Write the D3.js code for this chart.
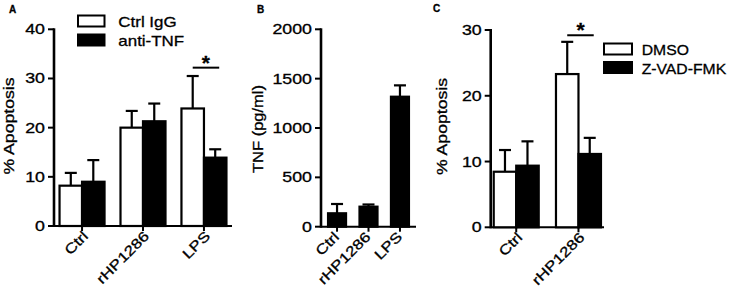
<!DOCTYPE html>
<html><head><meta charset="utf-8">
<script src="https://cdn.jsdelivr.net/npm/d3@7"></script>
<style>
html,body{margin:0;padding:0;background:#fff;}
svg text{font-family:"Liberation Sans",Arial,sans-serif;fill:#000;stroke:#000;stroke-width:0.3px;}
</style>
</head><body>
<svg id="chart" width="737" height="291"></svg>
<script>
// ---------- data ----------
const catsA = ["Ctrl", "rHP1286", "LPS"];
const seriesA = ["Ctrl IgG", "anti-TNF"];
const meanA_ctrlIgG = [8.2, 20.0, 23.9];
const errA_ctrlIgG = [2.6, 3.4, 6.6];
const meanA_antiTNF = [9.0, 21.3, 13.9];
const errA_antiTNF = [4.4, 3.6, 1.7];
const ticksA = [0, 10, 20, 30, 40];

const catsB = ["Ctrl", "rHP1286", "LPS"];
const meanB_TNF = [136, 203, 1317];
const errB_TNF = [94, 22, 115];
const ticksB = [0, 500, 1000, 1500, 2000];

const catsC = ["Ctrl", "rHP1286"];
const seriesC = ["DMSO", "Z-VAD-FMK"];
const meanC_DMSO = [8.45, 23.3];
const errC_DMSO = [3.3, 4.9];
const meanC_ZVAD = [9.37, 11.15];
const errC_ZVAD = [3.7, 2.45];
const ticksC = [0, 10, 20, 30];

const sigA = {cat: "LPS", value: 32.2};
const sigC = {cat: "rHP1286", value: 29.2};

// ---------- drawing ----------
const svg = d3.select("#chart");
const SW = 2.2;

function panel(o) {
  const g = svg.append("g");
  const y = d3.scaleLinear().domain(o.yDomain).range([o.y0, o.y1]);
  const x = d3.scalePoint().domain(o.cats).range([o.xAxis, o.xEnd]).padding(o.pad);
  const sub = d3.scaleBand().domain(o.series.map(s => s.name)).range([-o.bw * o.series.length / 2, o.bw * o.series.length / 2]);

  // y axis
  g.append("line").attr("x1", o.xAxis).attr("x2", o.xAxis).attr("y1", y(o.yDomain[0]) + 1).attr("y2", y(o.yDomain[1]) - 1)
    .attr("stroke", "#000").attr("stroke-width", 2.6);
  o.ticks.forEach(t => {
    g.append("line").attr("x1", o.xAxis - 6).attr("x2", o.xAxis).attr("y1", y(t)).attr("y2", y(t))
      .attr("stroke", "#000").attr("stroke-width", 2);
    g.append("text").attr("transform", `translate(${o.xAxis - 9},${y(t) + 5}) scale(1.27,1)`)
      .attr("text-anchor", "end").attr("font-size", 14).text(t);
  });
  // x axis
  g.append("line").attr("x1", o.xAxis).attr("x2", o.xEnd).attr("y1", y(0)).attr("y2", y(0))
    .attr("stroke", "#000").attr("stroke-width", 2);
  o.cats.forEach(c => {
    g.append("line").attr("x1", x(c)).attr("x2", x(c)).attr("y1", y(0)).attr("y2", y(0) + 5)
      .attr("stroke", "#000").attr("stroke-width", 2);
    g.append("text").attr("transform", `translate(${x(c) + o.lblDx},${y(0) + 11}) rotate(-45) scale(1.22,1)`)
      .attr("text-anchor", "end").attr("font-size", 14).text(c);
  });

  // bars + error bars
  o.series.forEach(s => {
    o.cats.forEach((c, i) => {
      const bx = x(c) + sub(s.name);
      const top = y(s.mean[i]);
      const etop = y(s.mean[i] + s.err[i]);
      const cx = bx + o.bw / 2;
      g.append("line").attr("x1", cx).attr("x2", cx).attr("y1", top).attr("y2", etop)
        .attr("stroke", "#000").attr("stroke-width", SW);
      g.append("line").attr("x1", cx - o.cap).attr("x2", cx + o.cap).attr("y1", etop).attr("y2", etop)
        .attr("stroke", "#000").attr("stroke-width", SW);
      g.append("rect").attr("x", bx).attr("y", top).attr("width", o.bw).attr("height", y(0) - top)
        .attr("fill", s.fill).attr("stroke", "#000").attr("stroke-width", SW);
    });
  });

  // significance
  if (o.sig) {
    const c = o.sig.cat;
    const x1 = x(c) + sub(o.series[0].name) + o.bw / 2;
    const x2 = x(c) + sub(o.series[1].name) + o.bw / 2 + 4;
    const yy = y(o.sig.value);
    g.append("line").attr("x1", x1).attr("x2", x2).attr("y1", yy).attr("y2", yy)
      .attr("stroke", "#000").attr("stroke-width", 2);
    g.append("text").attr("x", (x1 + x2) / 2).attr("y", yy + 2).attr("text-anchor", "middle")
      .attr("font-size", 21).attr("font-weight", "bold").text("*");
  }

  // y label
  g.append("text").attr("transform", `translate(${o.ylabX},${o.ylabY}) rotate(-90) scale(${o.ylabS},1)`)
    .attr("text-anchor", "middle").attr("font-size", 14).text(o.ylab);
  // panel letter
  g.append("text").attr("x", o.letX).attr("y", o.letY).attr("font-size", 10).attr("font-weight", "bold").text(o.letter);

  // legend
  if (o.legend) {
    const L = o.legend;
    o.series.forEach((s, i) => {
      g.append("rect").attr("x", L.x).attr("y", L.y + i * L.dy).attr("width", L.w).attr("height", L.h)
        .attr("fill", s.fill).attr("stroke", "#000").attr("stroke-width", 2);
      g.append("text").attr("transform", `translate(${L.tx},${L.y + i * L.dy + L.h + 0.5}) scale(${L.s},1)`)
        .attr("font-size", 15).text(s.name);
    });
  }
}

panel({
  cats: catsA, yDomain: [0, 40], y0: 226, y1: 29.3, xAxis: 54, xEnd: 232, pad: 0.46, bw: 22.5, cap: 6,
  ticks: ticksA, lblDx: 7,
  series: [{name: seriesA[0], mean: meanA_ctrlIgG, err: errA_ctrlIgG, fill: "#fff"},
           {name: seriesA[1], mean: meanA_antiTNF, err: errA_antiTNF, fill: "#000"}],
  sig: sigA, ylab: "% Apoptosis", ylabX: 14, ylabY: 126, ylabS: 1.26, letter: "A", letX: 9, letY: 13,
  legend: {x: 78, y: 15.5, dy: 19, w: 26.5, h: 11, tx: 118.3, s: 1.13}
});

panel({
  cats: catsB, yDomain: [0, 2000], y0: 226.7, y1: 29.3, xAxis: 321, xEnd: 416, pad: 0.51, bw: 18, cap: 6,
  ticks: ticksB, lblDx: 3,
  series: [{name: "TNF", mean: meanB_TNF, err: errB_TNF, fill: "#000"}],
  sig: null, ylab: "TNF (pg/ml)", ylabX: 263, ylabY: 129, ylabS: 1.18, letter: "B", letX: 257, letY: 13,
  legend: null
});

panel({
  cats: catsC, yDomain: [0, 30], y0: 227.3, y1: 30, xAxis: 490.7, xEnd: 604, pad: 0.41, bw: 22.5, cap: 6,
  ticks: ticksC, lblDx: 7,
  series: [{name: seriesC[0], mean: meanC_DMSO, err: errC_DMSO, fill: "#fff"},
           {name: seriesC[1], mean: meanC_ZVAD, err: errC_ZVAD, fill: "#000"}],
  sig: sigC, ylab: "% Apoptosis", ylabX: 447, ylabY: 126.5, ylabS: 1.26, letter: "C", letX: 433, letY: 12,
  legend: {x: 604, y: 43.5, dy: 18.5, w: 28, h: 11, tx: 641.7, s: 1.05}
});
</script>
</body></html>
